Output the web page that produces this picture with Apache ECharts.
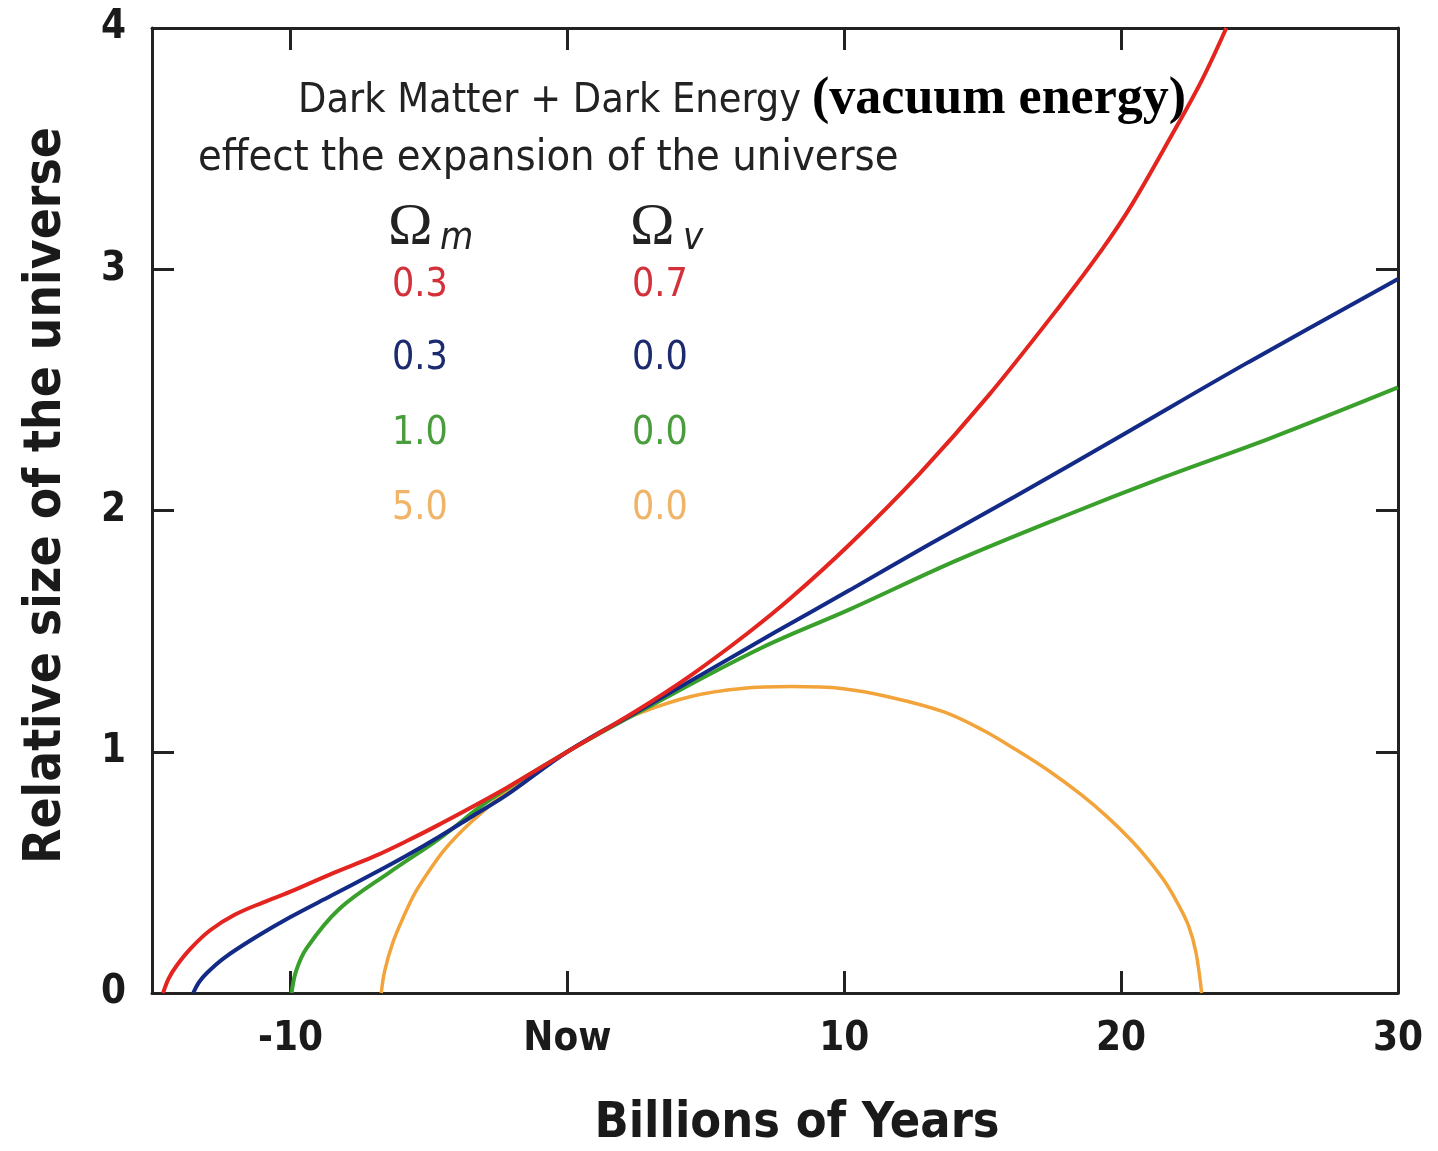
<!DOCTYPE html>
<html>
<head>
<meta charset="utf-8">
<script src="https://cdn.jsdelivr.net/npm/echarts@6/dist/echarts.min.js"></script>
<style>
html,body{margin:0;padding:0;background:#fff;}
#chart{width:1438px;height:1151px;}
</style>
</head>
<body>
<div id="chart"></div>
<script>
// ---- data ----
const xTicks = [-10, 0, 10, 20, 30];
const yTicks = [0, 1, 2, 3, 4];

const redX = [-14.6, -14.4, -14.1, -13.6, -12.9, -12.0, -11.0, -10.0, -8.5, -7.0, -5.8, -4.6, -2.2, 0, 2.5, 4.5, 6.5, 8.1, 10.2, 12.7, 15.2, 17.8, 19.3, 20.4, 21.8, 22.9, 23.8];
const redY = [0, 0.06, 0.115, 0.185, 0.26, 0.325, 0.375, 0.42, 0.495, 0.565, 0.63, 0.70, 0.85, 1.0, 1.17, 1.32, 1.49, 1.64, 1.86, 2.15, 2.475, 2.85, 3.08, 3.27, 3.55, 3.78, 4.0];

const blueX = [-13.51, -13.3, -13.0, -12.4, -11.2, -10.0, -8.5, -7.0, -5.8, -4.6, -3.4, -2.2, 0, 2.5, 5.0, 7.5, 10.2, 13.0, 16.2, 20.0, 24.6, 30];
const blueY = [0, 0.045, 0.085, 0.145, 0.235, 0.315, 0.405, 0.495, 0.57, 0.65, 0.735, 0.82, 1.0, 1.165, 1.33, 1.495, 1.67, 1.855, 2.06, 2.31, 2.615, 2.96];

const greenX = [-9.96, -9.8, -9.42, -8.22, -6.42, -4.62, -2.81, 0, 3.0, 7.0, 10.2, 14.0, 17.8, 21.6, 25.4, 30];
const greenY = [0, 0.09, 0.185, 0.35, 0.50, 0.64, 0.80, 1.0, 1.19, 1.43, 1.59, 1.79, 1.97, 2.14, 2.30, 2.51];

const orangeX = [-6.72, -6.6, -6.3, -5.9, -5.5, -5.0, -4.5, -4.0, -3.41, -2.21, -1.0, 0, 1.3, 2.6, 4.5, 6.3, 8.1, 9.9, 11.7, 13.6, 15.0, 16.18, 17.4, 18.58, 19.5, 20.39, 21.0, 21.59, 22.05, 22.43, 22.7, 22.91];
const orangeY = [0, 0.09, 0.21, 0.32, 0.415, 0.505, 0.585, 0.65, 0.715, 0.835, 0.93, 1.0, 1.09, 1.16, 1.23, 1.262, 1.27, 1.262, 1.225, 1.165, 1.09, 1.01, 0.92, 0.82, 0.73, 0.63, 0.55, 0.46, 0.37, 0.28, 0.17, 0];

const omegaM = ['0.3', '0.3', '1.0', '5.0'];
const omegaV = ['0.7', '0.0', '0.0', '0.0'];
// ---------------------------------------

const lineColors = ['#e3241f', '#132a86', '#3aa02c', '#f2a43a'];
const textColors = ['#d3303a', '#1c2a6e', '#4a9d3c', '#f0b468'];
const zip = (xs, ys) => xs.map((x, i) => [x, ys[i]]);

const condensed = "'DejaVu Sans Condensed', 'DejaVu Sans', sans-serif";
const axisColor = '#222';

const chart = echarts.init(document.getElementById('chart'), null, {renderer: 'canvas'});

const legendGraphics = [];
const rowY = [287, 360, 435, 510];
omegaM.forEach((v, i) => {
  legendGraphics.push({type: 'text', left: 392, top: rowY[i] - 21, style: {text: v, fill: textColors[i], font: '39px ' + condensed}});
  legendGraphics.push({type: 'text', left: 632, top: rowY[i] - 21, style: {text: omegaV[i], fill: textColors[i], font: '39px ' + condensed}});
});

const lineBase = {type: 'line', smooth: 0.35, showSymbol: false, silent: true};

const option = {
  animation: false,
  backgroundColor: '#fff',
  grid: {left: 152, right: 40, top: 28, bottom: 158, containLabel: false, outerBoundsMode: 'none'},
  xAxis: [{
    type: 'value', min: -15, max: 30,
    name: 'Billions of Years', nameLocation: 'middle', nameGap: 106,
    nameTextStyle: {fontSize: 50, fontWeight: 'bold', color: '#1a1a1a', fontFamily: condensed, padding: [0, 0, 0, 44]},
    axisLine: {show: true, onZero: false, lineStyle: {color: axisColor, width: 3}},
    axisTick: {show: true, inside: true, length: 22, customValues: xTicks, lineStyle: {color: axisColor, width: 3}},
    axisLabel: {show: true, customValues: xTicks, margin: 27, fontSize: 40, fontWeight: 'bold', color: '#1a1a1a', fontFamily: condensed,
      formatter: v => v === 0 ? 'Now' : String(v)},
    splitLine: {show: false}
  }, {
    type: 'value', min: -15, max: 30, position: 'top',
    axisLine: {show: true, onZero: false, lineStyle: {color: axisColor, width: 3}},
    axisTick: {show: true, inside: true, length: 22, customValues: xTicks, lineStyle: {color: axisColor, width: 3}},
    axisLabel: {show: false}, splitLine: {show: false}
  }],
  yAxis: [{
    type: 'value', min: 0, max: 4, interval: 1,
    name: 'Relative size of the universe', nameLocation: 'middle', nameGap: 80, nameRotate: 90,
    nameTextStyle: {fontSize: 51, fontWeight: 'bold', color: '#1a1a1a', fontFamily: condensed, padding: [0, 0, 0, 30]},
    axisLine: {show: true, onZero: false, lineStyle: {color: axisColor, width: 3}},
    axisTick: {show: true, inside: true, length: 22, lineStyle: {color: axisColor, width: 3}},
    axisLabel: {show: true, margin: 26, fontSize: 40, fontWeight: 'bold', color: '#1a1a1a', fontFamily: condensed},
    splitLine: {show: false}
  }, {
    type: 'value', min: 0, max: 4, interval: 1, position: 'right',
    axisLine: {show: true, onZero: false, lineStyle: {color: axisColor, width: 3}},
    axisTick: {show: true, inside: true, length: 22, lineStyle: {color: axisColor, width: 3}},
    axisLabel: {show: false}, splitLine: {show: false}
  }],
  series: [
    Object.assign({}, lineBase, {name: 'Ωm 5.0, Ωv 0.0', data: zip(orangeX, orangeY), lineStyle: {color: lineColors[3], width: 3.5}, z: 3}),
    Object.assign({}, lineBase, {name: 'Ωm 1.0, Ωv 0.0', data: zip(greenX, greenY), lineStyle: {color: lineColors[2], width: 4}, z: 4}),
    Object.assign({}, lineBase, {name: 'Ωm 0.3, Ωv 0.0', data: zip(blueX, blueY), lineStyle: {color: lineColors[1], width: 4}, z: 5}),
    Object.assign({}, lineBase, {name: 'Ωm 0.3, Ωv 0.7', data: zip(redX, redY), lineStyle: {color: lineColors[0], width: 4}, z: 6})
  ],
  graphic: [
    {type: 'text', left: 298, top: 81, style: {text: 'Dark Matter + Dark Energy', fill: '#222', font: '41px ' + condensed}},
    {type: 'text', left: 812, top: 74, style: {text: '(vacuum energy)', fill: '#000', font: 'bold 52px "Liberation Serif", "Times New Roman", serif'}},
    {type: 'text', left: 198, top: 137, style: {text: 'effect the expansion of the universe', fill: '#222', font: '43px ' + condensed}},
    {type: 'text', left: 388, top: 198, style: {text: 'Ω', fill: '#222', font: '60px "Liberation Serif", serif'}},
    {type: 'text', left: 440, top: 220, style: {text: 'm', fill: '#222', font: 'italic 38px ' + condensed}},
    {type: 'text', left: 630, top: 198, style: {text: 'Ω', fill: '#222', font: '60px "Liberation Serif", serif'}},
    {type: 'text', left: 683, top: 220, style: {text: 'v', fill: '#222', font: 'italic 38px ' + condensed}},
    ...legendGraphics
  ]
};
chart.setOption(option);
</script>
</body>
</html>
